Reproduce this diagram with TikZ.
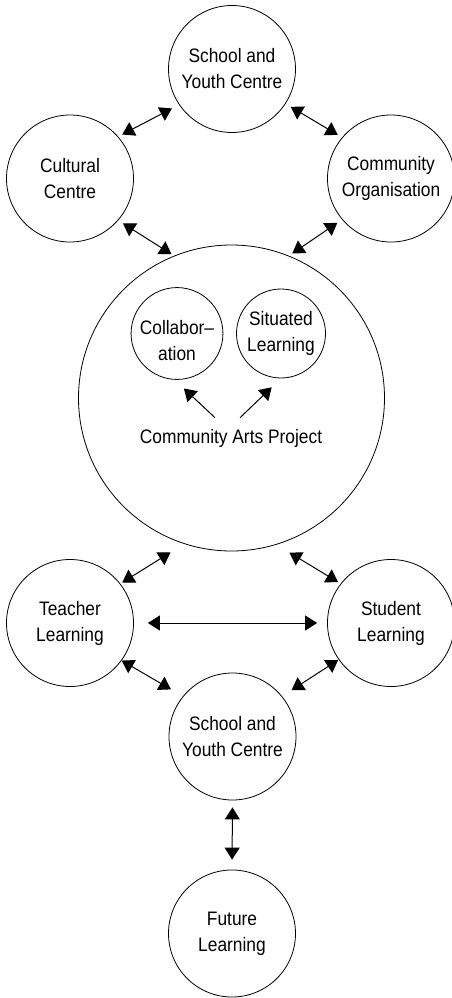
\documentclass[tikz,border=0pt]{standalone}
\usepackage{fontspec}
\setmainfont{Liberation Sans}[FakeStretch=0.89]
\usetikzlibrary{arrows.meta,positioning}

\tikzset{
  place/.style={draw, circle, line width=0.8pt, minimum size=127pt, inner sep=0pt,
    align=center, font=\fontsize{19.5}{26}\selectfont},
  bigplace/.style={place, minimum size=306pt},
  smallplace/.style={place, minimum size=89pt},
  caption/.style={inner sep=0pt, font=\fontsize{19.5}{26}\selectfont},
  link/.style={line width=1pt, {Triangle[length=12pt,width=15pt]}-{Triangle[length=12pt,width=15pt]}},
  feed/.style={line width=1pt, -{Triangle[length=12pt,width=15pt]}}
}

\begin{document}
\begin{tikzpicture}[x=1pt, y=-1pt]
  \useasboundingbox (0,0) rectangle (452,998);

  % Partners around the project
  \node[place] (school) at (232,69) {School and\\Youth Centre};
  \node[place] (cultural) at (70,178.5) {Cultural\\Centre};
  \node[place] (community) at (391,178.5) {Community\\Organisation};

  % Project with its two parts
  \node[bigplace] (project) at (231.5,398) {};
  \node[smallplace] (collab) at (177,333.5) {\rule{0pt}{28pt}Collabor--\\ation};
  \node[smallplace] (situated) at (281,333.5) {Situated\\Learning};
  \node[caption] (cap) at (231,438) {Community Arts Project};

  % Learning outcomes
  \node[place] (teacher) at (70,623) {Teacher\\Learning};
  \node[place] (student) at (391,623) {Student\\Learning};
  \node[place] (school2) at (232.5,736.5) {School and\\Youth Centre};
  \node[place] (future) at (232,933.5) {Future\\Learning};

  % Two-way links
  \draw[link, shorten <=8pt, shorten >=4.5pt] (school.214) -- (cultural.41);
  \draw[link, shorten <=6pt, shorten >=5pt] (school.327) -- (community.140);
  \draw[link, shorten <=5.7pt, shorten >=3pt] (cultural.319.5) -- (project.112.6);
  \draw[link, shorten <=5.7pt, shorten >=4pt] (community.220.8) -- (project.68.9);
  \draw[link, shorten <=16pt, shorten >=2.2pt] (project.252.1) -- (teacher.38.5);
  \draw[link, shorten <=15.3pt, shorten >=3pt] (project.287.7) -- (student.142);
  \draw[link, shorten <=14pt, shorten >=10pt] (teacher.east) -- (student.west);
  \draw[link, shorten >=13.7pt] (teacher.324.6) -- (school2.141.7);
  \draw[link, shorten <=0.6pt, shorten >=11.3pt] (student.215) -- (school2.39.5);
  \draw[link, shorten <=7pt, shorten >=10pt] (school2.south) -- (future.north);

  % From the project to its parts
  \draw[feed, shorten >=12.8pt] ([xshift=-16pt, yshift=11pt]cap.north) -- (collab.267.3);
  \draw[feed, shorten >=12.9pt] ([xshift=9pt, yshift=11pt]cap.north) -- (situated.270);
\end{tikzpicture}
\end{document}
